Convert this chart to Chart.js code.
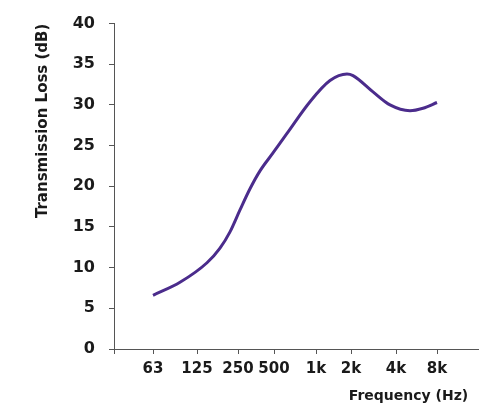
<!DOCTYPE html>
<html>
<head>
<meta charset="utf-8">
<script src="https://cdn.jsdelivr.net/npm/chart.js@4"></script>
<style>
    html, body { margin: 0; padding: 0; background: #fff; }
    #wrap { width: 499px; height: 409px; }
</style>
</head>
<body>
<div id="wrap"><canvas id="grafico"></canvas></div>
<script>
// rotulos de frequencia e onde cada um cai no eixo x (espacamento irregular)
const freqLabels = ["63", "125", "250", "500", "1k", "2k", "4k", "8k"]
const freqPos = [39, 83, 124, 160, 202, 237, 282, 323]

// pontos da curva
const curvaX = [39, 66, 93, 106, 116, 126, 136, 146, 159, 173, 196, 216, 233, 239, 259, 276, 296, 309, 323]
const curvaY = [6.6, 8.2, 10.6, 12.4, 14.4, 17.1, 19.7, 21.9, 24.1, 26.5, 30.4, 33.0, 33.8, 33.6, 31.6, 30.0, 29.3, 29.6, 30.3]

const yTicks = [0, 5, 10, 15, 20, 25, 30, 35, 40]

const fonte = "'DejaVu Sans', sans-serif"
const corTexto = "#1a1a1a"
const corEixo = "#555"

const grafico = document.getElementById("grafico")

new Chart(grafico, {
    type: "line",
    data: {
        datasets: [{
            data: curvaX.map((x, i) => ({ x: x, y: curvaY[i] })),
            borderColor: "#4b2c8c",
            borderWidth: 3,
            pointRadius: 0,
            cubicInterpolationMode: "monotone",
            fill: false
        }]
    },
    options: {
        responsive: true,
        maintainAspectRatio: false,
        animation: false,
        layout: { padding: { top: 19, right: 21, left: 0, bottom: 0 } },
        plugins: {
            legend: { display: false },
            tooltip: { enabled: false }
        },
        scales: {
            x: {
                type: "linear",
                min: 0,
                max: 364,
                afterBuildTicks: (scale) => {
                    scale.ticks = [0, ...freqPos].map(v => ({ value: v }))
                },
                afterFit: (scale) => { scale.height = 60 },
                ticks: {
                    autoSkip: false,
                    maxRotation: 0,
                    padding: 6,
                    color: corTexto,
                    font: { family: fonte, size: 15, weight: "bold" },
                    callback: (v) => {
                        const i = freqPos.indexOf(v)
                        return i >= 0 ? freqLabels[i] : ""
                    }
                },
                grid: { drawOnChartArea: false, drawTicks: true, tickLength: 5, color: corEixo },
                border: { color: corEixo, width: 1 },
                title: {
                    display: true,
                    // espacos no fim afastam o titulo da ponta do eixo
                    text: "Frequency (Hz)  ",
                    align: "end",
                    color: corTexto,
                    font: { family: fonte, size: 14, weight: "bold" },
                    padding: { top: 0, bottom: 4 }
                }
            },
            y: {
                min: 0,
                max: 40,
                afterBuildTicks: (scale) => {
                    scale.ticks = yTicks.map(v => ({ value: v }))
                },
                afterFit: (scale) => { scale.width = 114 },
                ticks: {
                    padding: 14,
                    color: corTexto,
                    font: { family: fonte, size: 16, weight: "bold" }
                },
                grid: { drawOnChartArea: false, drawTicks: true, tickLength: 5, color: corEixo },
                border: { color: corEixo, width: 1 },
                title: {
                    display: true,
                    text: "Transmission Loss (dB)",
                    align: "end",
                    color: corTexto,
                    font: { family: fonte, size: 15, weight: "bold" },
                    padding: { top: 34, bottom: 0 }
                }
            }
        }
    }
})
</script>
</body>
</html>
